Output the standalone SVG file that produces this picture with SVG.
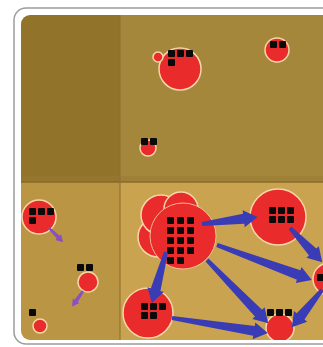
<svg xmlns="http://www.w3.org/2000/svg" width="323" height="347" viewBox="0 0 323 347">
<style>
.n{fill:#ea2b2b;stroke:#f6d7a8;stroke-width:1.5}
.m{fill:#ea2b2b;stroke:#f6d7a8;stroke-width:1;stroke-opacity:0.8}
.s{fill:#0a0a0a}
.a{fill:#3a3cb5}
.p{fill:#8a4fc4}
</style>
<defs>
<clipPath id="panel"><rect x="21" y="15" width="320" height="325" rx="9"/></clipPath>
</defs>
<rect x="0" y="0" width="323" height="347" fill="#ffffff"/>
<rect x="14" y="8" width="330" height="336" rx="12" fill="#ffffff" stroke="#9c9c9c" stroke-width="1.5"/>
<g clip-path="url(#panel)">
<rect x="21" y="15" width="99" height="167" fill="#917329"/>
<rect x="120" y="15" width="220" height="167" fill="#a4873b"/>
<rect x="21" y="182" width="99" height="160" fill="#ba9544"/>
<rect x="120" y="182" width="220" height="160" fill="#c9a34f"/>
<rect x="21" y="176" width="320" height="6" fill="#9a7a33" opacity="0.5"/>
<line x1="21" y1="182" x2="341" y2="182" stroke="#8a6a2a" stroke-width="1.5"/>
<line x1="120" y1="15" x2="120" y2="340" stroke="#8e7030" stroke-width="1.5" opacity="0.7"/>

<g id="node-t1">
<circle class="n" cx="180" cy="69" r="21"/>
<circle class="n" cx="158" cy="57" r="5"/>
<rect class="s" x="168" y="50" width="7" height="7" rx="1"/>
<rect class="s" x="177" y="50" width="7" height="7" rx="1"/>
<rect class="s" x="186" y="50" width="7" height="7" rx="1"/>
<rect class="s" x="168" y="59" width="7" height="7" rx="1"/>
</g>
<g id="node-t2">
<circle class="n" cx="277" cy="50" r="12"/>
<rect class="s" x="270" y="41" width="7" height="7" rx="1"/>
<rect class="s" x="279" y="41" width="7" height="7" rx="1"/>
</g>
<g id="node-t3">
<circle class="n" cx="148" cy="148" r="8"/>
<rect class="s" x="141" y="138" width="7" height="7" rx="1"/>
<rect class="s" x="150" y="138" width="7" height="7" rx="1"/>
</g>

<g id="node-l1">
<circle class="n" cx="39" cy="217" r="17"/>
<rect class="s" x="29" y="208" width="7" height="7" rx="1"/>
<rect class="s" x="38" y="208" width="7" height="7" rx="1"/>
<rect class="s" x="47" y="208" width="7" height="7" rx="1"/>
<rect class="s" x="29" y="217" width="7" height="7" rx="1"/>
</g>
<g id="node-l2">
<circle class="n" cx="88" cy="282" r="10"/>
<rect class="s" x="77" y="264" width="7" height="7" rx="1"/>
<rect class="s" x="86" y="264" width="7" height="7" rx="1"/>
</g>
<g id="node-l3">
<circle class="n" cx="40" cy="326" r="7"/>
<rect class="s" x="29" y="309" width="7" height="7" rx="1"/>
</g>

<g id="node-big">
<circle class="n" cx="158" cy="237" r="20"/>
<circle class="n" cx="161" cy="215" r="20"/>
<circle class="n" cx="181" cy="209" r="17"/>
<circle class="m" cx="183" cy="236" r="33"/>
<rect class="s" x="167" y="217" width="7" height="7" rx="1"/>
<rect class="s" x="177" y="217" width="7" height="7" rx="1"/>
<rect class="s" x="187" y="217" width="7" height="7" rx="1"/>
<rect class="s" x="167" y="227" width="7" height="7" rx="1"/>
<rect class="s" x="177" y="227" width="7" height="7" rx="1"/>
<rect class="s" x="187" y="227" width="7" height="7" rx="1"/>
<rect class="s" x="167" y="237" width="7" height="7" rx="1"/>
<rect class="s" x="177" y="237" width="7" height="7" rx="1"/>
<rect class="s" x="187" y="237" width="7" height="7" rx="1"/>
<rect class="s" x="167" y="247" width="7" height="7" rx="1"/>
<rect class="s" x="177" y="247" width="7" height="7" rx="1"/>
<rect class="s" x="187" y="247" width="7" height="7" rx="1"/>
<rect class="s" x="167" y="257" width="7" height="7" rx="1"/>
<rect class="s" x="177" y="257" width="7" height="7" rx="1"/>
</g>
<g id="node-r1">
<circle class="n" cx="278" cy="217" r="28"/>
<rect class="s" x="269" y="207" width="7" height="7" rx="1"/>
<rect class="s" x="278" y="207" width="7" height="7" rx="1"/>
<rect class="s" x="287" y="207" width="7" height="7" rx="1"/>
<rect class="s" x="269" y="216" width="7" height="7" rx="1"/>
<rect class="s" x="278" y="216" width="7" height="7" rx="1"/>
<rect class="s" x="287" y="216" width="7" height="7" rx="1"/>
</g>
<g id="node-r2">
<circle class="n" cx="329" cy="279" r="16"/>
<rect class="s" x="317" y="274" width="7" height="7" rx="1"/>
</g>
<g id="node-r3">
<circle class="n" cx="280" cy="328" r="14"/>
<rect class="s" x="267" y="309" width="7" height="7" rx="1"/>
<rect class="s" x="276" y="309" width="7" height="7" rx="1"/>
<rect class="s" x="285" y="309" width="7" height="7" rx="1"/>
</g>
<g id="node-r4">
<circle class="n" cx="148" cy="313" r="25"/>
</g>

<g id="connectors">
<polygon class="a" transform="translate(202,224) rotate(-7.1)" points="0,-2 42,-5 42,-8.5 56,0 42,8.5 42,5 0,2"/>
<polygon class="a" transform="translate(217,245) rotate(20.2)" points="0,-2 87,-5 87,-8.5 101,0 87,8.5 87,5 0,2"/>
<polygon class="a" transform="translate(207,260) rotate(45.9)" points="0,-2 74,-5 74,-8.5 88,0 74,8.5 74,5 0,2"/>
<polygon class="a" transform="translate(166,252) rotate(105.4)" points="0,-2 39,-5 39,-8.5 53,0 39,8.5 39,5 0,2"/>
<polygon class="a" transform="translate(172,318) rotate(8.9)" points="0,-2 83,-5 83,-8.5 97,0 83,8.5 83,5 0,2"/>
<polygon class="a" transform="translate(290,228) rotate(46.7)" points="0,-2 33,-5 33,-8.5 47,0 33,8.5 33,5 0,2"/>
<polygon class="a" transform="translate(322,290) rotate(129)" points="0,-2 34,-5 34,-8.5 48,0 34,8.5 34,5 0,2"/>
<polygon class="p" transform="translate(49,228) rotate(45)" points="0,-1.2 13,-2 13,-4 20,0 13,4 13,2 0,1.2"/>
<polygon class="p" transform="translate(83,291) rotate(125)" points="0,-1.2 12,-2 12,-4 19,0 12,4 12,2 0,1.2"/>
</g>

<g id="node-r4-labels">
<rect class="s" x="141" y="303" width="7" height="7" rx="1"/>
<rect class="s" x="150" y="303" width="7" height="7" rx="1"/>
<rect class="s" x="159" y="303" width="7" height="7" rx="1"/>
<rect class="s" x="141" y="312" width="7" height="7" rx="1"/>
<rect class="s" x="150" y="312" width="7" height="7" rx="1"/>
</g>
</g>
</svg>
